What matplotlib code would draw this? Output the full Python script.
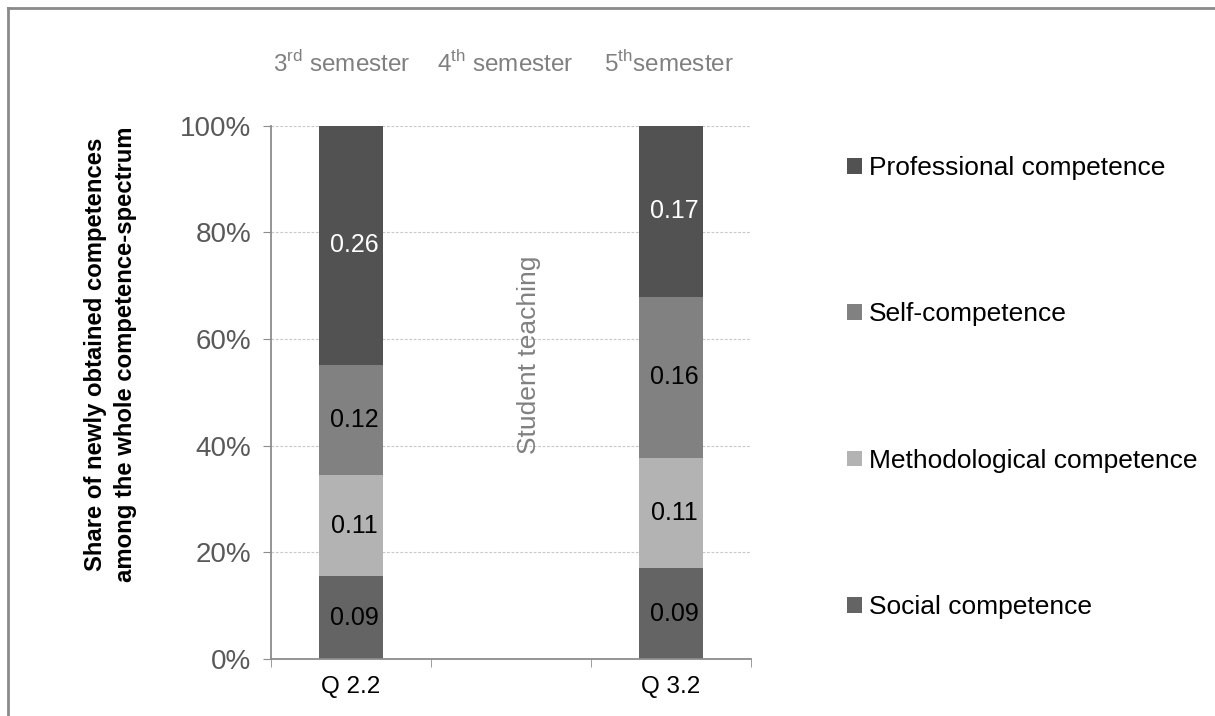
import matplotlib

matplotlib.use("Agg")
import matplotlib.pyplot as plt  # noqa: E402
import numpy as np  # noqa: E402
from matplotlib.lines import Line2D  # noqa: E402
from matplotlib.ticker import FixedLocator, PercentFormatter  # noqa: E402

# data
categories = ["Q 2.2", "", "Q 3.2"]
series = ["Social competence", "Methodological competence", "Self-competence", "Professional competence"]
social = [0.09, 0.0, 0.09]
methodological = [0.11, 0.0, 0.11]
self_comp = [0.12, 0.0, 0.16]
professional = [0.26, 0.0, 0.17]
semesters = [r"3$^{\mathrm{rd}}$ semester", r"4$^{\mathrm{th}}$ semester", r"5$^{\mathrm{th}}$semester"]

COLORS = ["#646464", "#b3b3b3", "#818181", "#525252"]
LABEL_COLORS = ["black", "black", "black", "white"]
AXIS = "#8c8c8c"
TICKTXT = "#595959"
GRID = "#c8c8c8"
MUTED = "#808080"

plt.rcParams.update(
    {
        "font.family": ["Liberation Sans", "DejaVu Sans"],
        "font.size": 18,
        "mathtext.fontset": "custom",
        "mathtext.rm": "Liberation Sans",
    }
)

fig = plt.figure(figsize=(12.15, 7.16), dpi=100)
ax = fig.add_axes([0.2230, 0.0796, 0.3951, 0.7451])

values = np.array([social, methodological, self_comp, professional])
totals = values.sum(axis=0)
shares = np.divide(values, totals, out=np.zeros_like(values), where=totals > 0)

x = np.arange(len(categories))
bottom = np.zeros(len(categories))
for i, name in enumerate(series):
    ax.bar(x, shares[i], 0.4, bottom=bottom, color=COLORS[i], label=name, zorder=2)
    for xi in x:
        if values[i, xi] > 0:
            ax.text(xi + 0.02, bottom[xi] + shares[i, xi] / 2, f"{values[i, xi]:.2f}",
                    ha="center", va="center", fontsize=18, color=LABEL_COLORS[i], zorder=3)
    bottom += shares[i]

ax.set_xlim(-0.5, 2.5)
ax.set_ylim(0, 1)
ax.set_yticks(np.arange(0, 1.01, 0.2))
ax.yaxis.set_major_formatter(PercentFormatter(1.0, decimals=0))
ax.set_xticks(x, categories)
ax.xaxis.set_minor_locator(FixedLocator([-0.5, 0.5, 1.5, 2.5]))
ax.tick_params(axis="x", which="major", length=0, pad=12, labelsize=17.5, labelcolor="black")
ax.tick_params(axis="x", which="minor", length=6, color=AXIS, direction="out")
ax.tick_params(axis="y", length=6, color=AXIS, pad=8, labelsize=20, labelcolor=TICKTXT)

ax.yaxis.grid(True, color=GRID, linestyle=(0, (2.5, 1.5)), linewidth=0.8)
ax.set_axisbelow(True)
ax.spines[["top", "right"]].set_visible(False)
for side in ("left", "bottom"):
    ax.spines[side].set_color(AXIS)
    ax.spines[side].set_linewidth(1.3)

ax.set_ylabel("Share of newly obtained competences\namong the whole competence-spectrum",
              fontsize=17.2, fontweight="bold", linespacing=1.4)
ax.yaxis.set_label_coords(-0.279, 0.571)

# semester labels above the plot
for xpos, text in zip([0.148, 0.4875, 0.829], semesters):
    ax.text(xpos, 1.115, text, transform=ax.transAxes, ha="center", va="center",
            fontsize=17.5, color=MUTED)
ax.text(1.11, 0.57, "Student teaching", rotation=90, ha="center", va="center",
        fontsize=19, color=MUTED)

# legend, top-down order
handles, labels = ax.get_legend_handles_labels()
leg = fig.legend(handles[::-1], labels[::-1], loc="upper left", bbox_to_anchor=(0.6885, 0.797),
                 frameon=False, fontsize=19, handlelength=0.55, handleheight=0.55,
                 handletextpad=0.27, labelspacing=4.64, borderaxespad=0)

# chart frame (top and left edges)
fig.add_artist(Line2D([0.0063, 0.0063], [0, 0.9895], color="#8a8a8a", linewidth=2,
                      transform=fig.transFigure))
fig.add_artist(Line2D([0.0063, 1.0], [0.9895, 0.9895], color="#8a8a8a", linewidth=2,
                      transform=fig.transFigure))

fig.savefig("out.png", dpi=100, facecolor="white")
